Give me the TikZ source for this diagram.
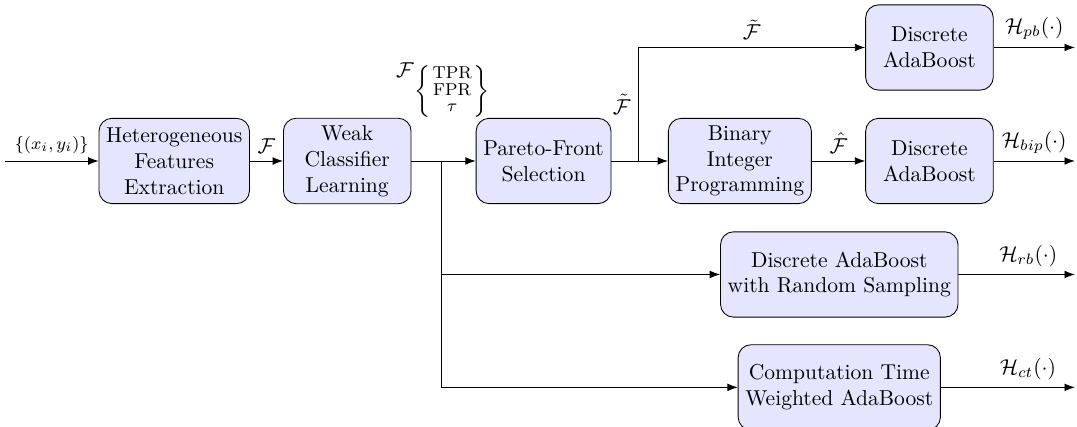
\documentclass[tikz,border=0pt]{standalone}
\usepackage{amsmath, amssymb}
\usepackage{tikz}
\usetikzlibrary{positioning,arrows.meta}

\begin{document}
\begin{tikzpicture}[>=Latex, every node/.style={font=\normalsize},
    blockbox/.style={draw, rounded corners=6pt, fill=blue!10, minimum width=2.08cm, minimum height=1.39cm, align=center}]
      \useasboundingbox (0,-4.336) rectangle (17.555,2.624);
      % main line
      \node[blockbox] (feat) at (2.84,0) {Heterogeneous\\ Features\\ Extraction};
      \node[blockbox] (weak) at (5.66,0) {Weak\\ Classifier\\ Learning};
      \node[blockbox] (pareto) at (8.86,0) {Pareto-Front\\ Selection};
      \node[blockbox] (bip) at (12.06,0) {Binary\\ Integer\\ Programming};
      \node[blockbox] (adab) at (15.15,0) {Discrete\\ AdaBoost};
      \node[blockbox] (adabt) at (15.15,1.85) {Discrete\\ AdaBoost};
      \node[blockbox] (adars) at (13.68,-1.85) {Discrete AdaBoost\\ with Random Sampling};
      \node[blockbox] (ctwa) at (13.68,-3.69) {Computation Time\\ Weighted AdaBoost};
      % features with their rates
      \node (fset) at (6.60,1.48) {$\mathcal{F}$};
      \node (fmeta) at (7.37,1.13) {$\left\{\vcenter{\hbox{\footnotesize\renewcommand{\arraystretch}{0.78}\begin{tabular}{@{\hspace{1pt}}c@{\hspace{1pt}}}TPR\\ FPR\\ $\tau$\end{tabular}}}\right\}$};

      \coordinate (in) at (0.08,0);
      \coordinate (br1) at (7.19,0);
      \coordinate (br2) at (10.40,0);
      \coordinate (opb) at (17.52,1.85);
      \coordinate (obip) at (17.52,0);
      \coordinate (orb) at (17.52,-1.85);
      \coordinate (oct) at (17.52,-3.69);

      \draw[->] (in) -- (feat) node[midway, above, font=\footnotesize] {$\{(x_i,y_i)\}$};
      \draw[->] (feat) -- (weak) node[midway, above] {$\mathcal{F}$};
      \draw[->] (weak) -- (pareto);
      \draw[->] (br1) |- (adars);
      \draw[->] (br1) |- (ctwa);
      \draw[->] (pareto) -- (bip);
      \draw[->] (br2) |- (adabt) node[pos=0.25, left] {$\tilde{\mathcal{F}}$} node[pos=0.75, above] {$\tilde{\mathcal{F}}$};
      \draw[->] (bip) -- (adab) node[midway, above] {$\hat{\mathcal{F}}$};
      \draw[->] (adabt) -- (opb) node[midway, above] {$\mathcal{H}_{pb}(\cdot)$};
      \draw[->] (adab) -- (obip) node[midway, above] {$\mathcal{H}_{bip}(\cdot)$};
      \draw[->] (adars) -- (orb) node[pos=0.6, above] {$\mathcal{H}_{rb}(\cdot)$};
      \draw[->] (ctwa) -- (oct) node[pos=0.65, above] {$\mathcal{H}_{ct}(\cdot)$};
    \end{tikzpicture}
\end{document}
